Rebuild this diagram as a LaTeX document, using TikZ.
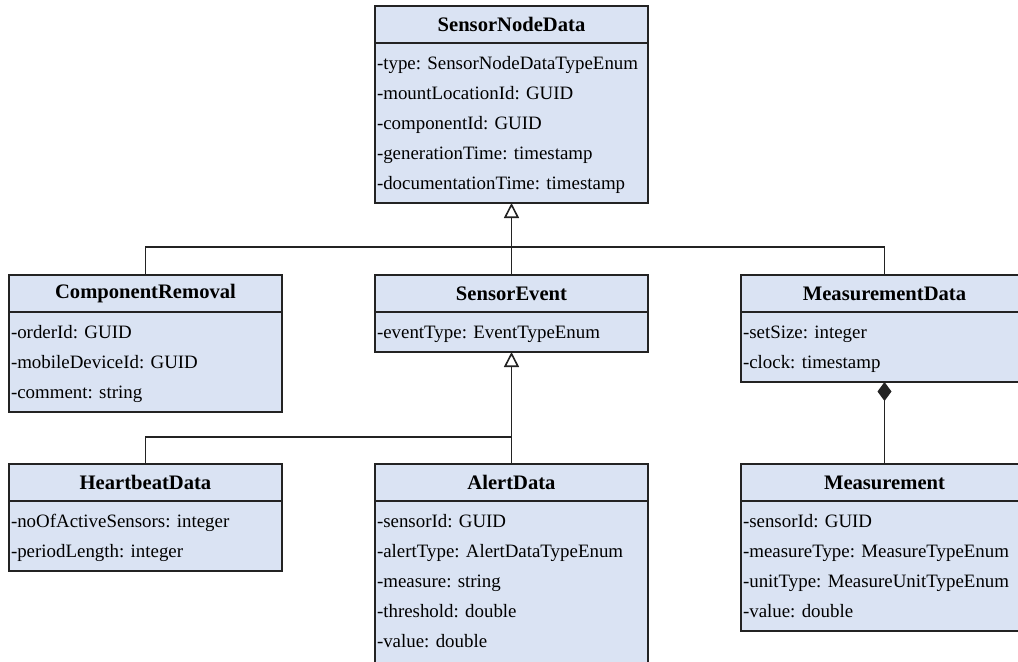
\documentclass[tikz,border=0pt]{standalone}
\usepackage{fontspec}
\setmainfont{Liberation Serif}
\usepackage{tikz}
\usetikzlibrary{positioning, arrows.meta}
\definecolor{classfill}{RGB}{218,227,243}
\definecolor{umlline}{RGB}{35,35,35}
\newcommand{\fld}[1]{\mbox{\strut -#1}}
\frenchspacing

\begin{document}
\begin{tikzpicture}[x=0.5pt, y=-0.5pt,
    head/.style={draw=umlline, fill=classfill, line width=0.9pt, outer sep=0pt,
        minimum width=136.5pt, minimum height=18.5pt, anchor=north west,
        font=\fontsize{10.3}{15}\selectfont\bfseries},
    fields/.style={draw=umlline, fill=classfill, line width=0.9pt, outer sep=0pt,
        text width=134.5pt, inner xsep=1pt, inner ysep=2.5pt, align=left,
        font=\fontsize{9.45}{15}\selectfont, below=0pt of #1},
    wide/.style={minimum width=143.5pt},
    widefields/.style={text width=141.5pt},
    link/.style={draw=umlline, line width=0.8pt},
    inherit/.style={link, -{Triangle[open, length=7.5pt, width=7.5pt, fill=white]}},
    compose/.style={link, -{Diamond[length=9.5pt, width=7pt]}}]
    \useasboundingbox (0,0) rectangle (1018,661);
    % top class
    \node[head] (snd) at (375,6) {SensorNodeData};
    \node[fields=snd] (sndf) {\fld{type: SensorNodeDataTypeEnum}\\ \fld{mountLocationId: GUID}\\
        \fld{componentId: GUID}\\ \fld{generationTime: timestamp}\\ \fld{documentationTime: timestamp}};
    % second row
    \node[head] (crm) at (9,275) {ComponentRemoval};
    \node[fields=crm] (crmf) {\fld{orderId: GUID}\\ \fld{mobileDeviceId: GUID}\\ \fld{comment: string}};
    \node[head] (sev) at (375,275) {SensorEvent};
    \node[fields=sev] (sevf) {\fld{eventType: EventTypeEnum}};
    \node[head, wide] (mdt) at (741,275) {MeasurementData};
    \node[fields=mdt, widefields] (mdtf) {\fld{setSize: integer}\\ \fld{clock: timestamp}};
    % third row
    \node[head] (hbt) at (9,464) {HeartbeatData};
    \node[fields=hbt] (hbtf) {\fld{noOfActiveSensors: integer}\\ \fld{periodLength: integer}};
    \node[head] (alr) at (375,464) {AlertData};
    \node[fields=alr] (alrf) {\fld{sensorId: GUID}\\ \fld{alertType: AlertDataTypeEnum}\\
        \fld{measure: string}\\ \fld{threshold: double}\\ \fld{value: double}\\[-9pt]\mbox{}};
    \node[head, wide] (msm) at (741,464) {Measurement};
    \node[fields=msm, widefields] (msmf) {\fld{sensorId: GUID}\\ \fld{measureType: MeasureTypeEnum}\\
        \fld{unitType: MeasureUnitTypeEnum}\\ \fld{value: double}};
    % generalisation and composition
    \coordinate (bus1) at (sev.north |- 0,247);
    \coordinate (bus2) at (alr.north |- 0,437);
    \draw[link] (crm.north) |- (bus1) -| (mdt.north);
    \draw[inherit] (sev.north) -- (sndf.south);
    \draw[link] (hbt.north) |- (bus2);
    \draw[inherit] (alr.north) -- (sevf.south);
    \draw[compose] (msm.north) -- (mdtf.south);
\end{tikzpicture}
\end{document}
